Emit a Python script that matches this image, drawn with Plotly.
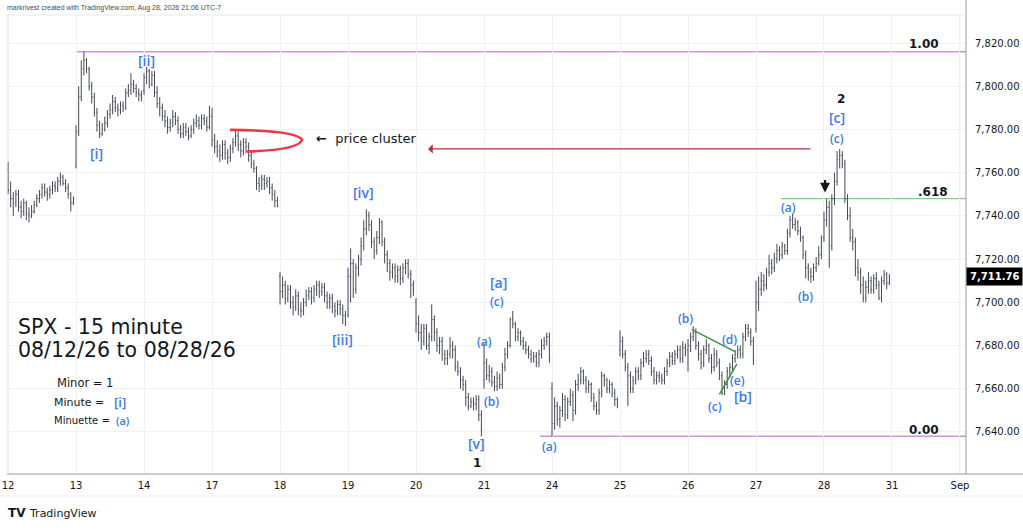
import plotly.graph_objects as go

# ---------------- data ----------------
days = ["12", "13", "14", "17", "18", "19", "20", "21", "24", "25", "26", "27", "28"]
axis_labels = ["12", "13", "14", "17", "18", "19", "20", "21", "24", "25", "26", "27", "28", "31", "Sep"]
bars_per_day = 26
day_open = [7762, 7763, 7798, 7786, 7712, 7694, 7700, 7664, 7660, 7678, 7678, 7688, 7730]

c12 = [7752, 7748, 7746, 7750, 7744, 7742, 7746, 7741, 7740, 7742, 7745, 7748, 7750, 7753, 7751, 7750, 7752, 7754, 7753, 7756, 7758, 7755, 7753, 7750, 7746, 7748]
h12 = [7765, 7756, 7751, 7752, 7752, 7747, 7748, 7747, 7744, 7745, 7747, 7750, 7752, 7755, 7755, 7753, 7754, 7756, 7756, 7758, 7760, 7759, 7757, 7755, 7751, 7749]
l12 = [7750, 7744, 7740, 7744, 7742, 7739, 7740, 7738, 7737, 7739, 7741, 7744, 7746, 7748, 7749, 7747, 7748, 7750, 7751, 7751, 7754, 7754, 7751, 7748, 7742, 7745]

c13 = [7779, 7795, 7808, 7812, 7808, 7800, 7795, 7788, 7782, 7778, 7780, 7783, 7787, 7789, 7793, 7790, 7789, 7791, 7790, 7797, 7798, 7801, 7799, 7797, 7796, 7795]
h13 = [7782, 7800, 7812, 7816, 7813, 7809, 7802, 7797, 7790, 7784, 7783, 7786, 7789, 7792, 7796, 7795, 7792, 7793, 7793, 7799, 7801, 7806, 7803, 7801, 7799, 7798]
l13 = [7762, 7777, 7793, 7805, 7806, 7798, 7792, 7786, 7779, 7776, 7777, 7779, 7781, 7785, 7787, 7788, 7786, 7787, 7788, 7789, 7795, 7796, 7797, 7795, 7793, 7793]

c14 = [7804, 7807, 7801, 7805, 7797, 7792, 7790, 7786, 7784, 7781, 7783, 7786, 7784, 7780, 7778, 7781, 7779, 7777, 7780, 7783, 7784, 7782, 7785, 7784, 7781, 7786]
h14 = [7806, 7809, 7808, 7807, 7807, 7800, 7795, 7792, 7789, 7786, 7785, 7789, 7788, 7786, 7782, 7783, 7783, 7781, 7782, 7785, 7787, 7786, 7787, 7787, 7786, 7791]
l14 = [7796, 7801, 7799, 7800, 7795, 7790, 7786, 7784, 7781, 7778, 7779, 7781, 7782, 7778, 7776, 7776, 7777, 7775, 7776, 7778, 7781, 7780, 7780, 7782, 7779, 7780]

c17 = [7775, 7772, 7770, 7768, 7773, 7769, 7767, 7771, 7774, 7777, 7773, 7770, 7774, 7772, 7768, 7764, 7762, 7755, 7754, 7757, 7755, 7756, 7753, 7750, 7747, 7745]
h17 = [7790, 7778, 7775, 7773, 7775, 7775, 7771, 7773, 7776, 7780, 7779, 7775, 7776, 7776, 7774, 7770, 7766, 7763, 7758, 7759, 7759, 7758, 7758, 7755, 7752, 7749]
l17 = [7772, 7769, 7767, 7765, 7766, 7766, 7764, 7765, 7769, 7772, 7770, 7767, 7768, 7769, 7765, 7762, 7760, 7752, 7751, 7752, 7752, 7753, 7750, 7747, 7744, 7744]

c18 = [7705, 7708, 7702, 7706, 7700, 7698, 7703, 7697, 7696, 7700, 7703, 7705, 7702, 7706, 7708, 7705, 7707, 7703, 7700, 7702, 7698, 7696, 7699, 7697, 7694, 7691]
h18 = [7714, 7712, 7710, 7708, 7708, 7703, 7706, 7705, 7700, 7702, 7706, 7707, 7707, 7708, 7710, 7710, 7709, 7709, 7705, 7704, 7704, 7700, 7701, 7701, 7699, 7696]
l18 = [7699, 7702, 7699, 7700, 7697, 7694, 7696, 7694, 7693, 7694, 7698, 7701, 7699, 7700, 7703, 7702, 7703, 7700, 7697, 7697, 7695, 7693, 7694, 7694, 7690, 7689]

c19 = [7712, 7718, 7706, 7716, 7720, 7726, 7734, 7740, 7736, 7728, 7724, 7730, 7737, 7728, 7722, 7718, 7714, 7716, 7712, 7715, 7711, 7716, 7718, 7713, 7708, 7706]
h19 = [7716, 7725, 7720, 7718, 7722, 7730, 7738, 7743, 7742, 7738, 7730, 7733, 7739, 7738, 7730, 7724, 7720, 7718, 7718, 7717, 7717, 7718, 7720, 7720, 7715, 7710]
l19 = [7693, 7700, 7702, 7704, 7712, 7717, 7724, 7731, 7733, 7725, 7720, 7722, 7727, 7726, 7718, 7714, 7710, 7711, 7709, 7709, 7708, 7709, 7713, 7711, 7702, 7703]

c20 = [7690, 7686, 7682, 7688, 7680, 7684, 7692, 7686, 7680, 7682, 7676, 7674, 7676, 7680, 7678, 7670, 7668, 7664, 7662, 7656, 7652, 7654, 7653, 7655, 7648, 7641]
h20 = [7702, 7694, 7690, 7690, 7690, 7686, 7699, 7694, 7688, 7684, 7684, 7678, 7678, 7684, 7682, 7680, 7673, 7670, 7666, 7664, 7658, 7656, 7656, 7657, 7657, 7650]
l20 = [7686, 7682, 7678, 7680, 7678, 7676, 7682, 7682, 7677, 7676, 7673, 7671, 7671, 7674, 7674, 7668, 7666, 7660, 7659, 7652, 7650, 7651, 7650, 7650, 7645, 7638]

c21 = [7672, 7666, 7668, 7663, 7661, 7665, 7662, 7670, 7676, 7680, 7692, 7690, 7684, 7686, 7682, 7680, 7678, 7676, 7674, 7675, 7672, 7676, 7680, 7682, 7684, 7674]
h21 = [7681, 7674, 7671, 7670, 7666, 7668, 7667, 7672, 7679, 7682, 7693, 7696, 7691, 7688, 7687, 7684, 7682, 7680, 7678, 7677, 7677, 7678, 7683, 7684, 7686, 7686]
l21 = [7660, 7664, 7663, 7661, 7659, 7659, 7660, 7660, 7668, 7674, 7679, 7688, 7682, 7682, 7680, 7678, 7676, 7674, 7672, 7672, 7670, 7670, 7674, 7678, 7680, 7672]

c24 = [7644, 7652, 7646, 7650, 7655, 7648, 7654, 7657, 7650, 7662, 7664, 7668, 7664, 7660, 7662, 7656, 7652, 7650, 7658, 7666, 7664, 7660, 7662, 7658, 7655, 7652]
h24 = [7663, 7656, 7654, 7652, 7658, 7657, 7656, 7660, 7659, 7664, 7667, 7670, 7669, 7666, 7664, 7663, 7658, 7654, 7660, 7668, 7667, 7665, 7664, 7663, 7660, 7656]
l24 = [7638, 7641, 7643, 7642, 7647, 7645, 7646, 7652, 7645, 7648, 7659, 7662, 7662, 7658, 7658, 7654, 7650, 7648, 7648, 7656, 7661, 7658, 7658, 7656, 7652, 7651]

c25 = [7682, 7676, 7670, 7666, 7660, 7664, 7668, 7666, 7672, 7674, 7676, 7673, 7668, 7664, 7666, 7665, 7664, 7668, 7672, 7675, 7673, 7676, 7678, 7674, 7679, 7678]
h25 = [7687, 7684, 7678, 7672, 7668, 7666, 7670, 7670, 7674, 7677, 7678, 7678, 7675, 7670, 7668, 7668, 7667, 7670, 7674, 7677, 7677, 7678, 7680, 7680, 7682, 7681]
l25 = [7675, 7674, 7668, 7652, 7658, 7658, 7662, 7664, 7664, 7670, 7672, 7671, 7666, 7662, 7662, 7663, 7662, 7662, 7666, 7670, 7671, 7671, 7674, 7672, 7672, 7675]

c26 = [7680, 7684, 7686, 7680, 7676, 7672, 7678, 7680, 7674, 7670, 7676, 7672, 7666, 7658, 7662, 7668, 7670, 7674, 7676, 7678, 7676, 7684, 7688, 7686, 7682, 7674]
h26 = [7683, 7686, 7689, 7688, 7682, 7678, 7680, 7683, 7681, 7676, 7679, 7678, 7674, 7668, 7664, 7670, 7672, 7676, 7678, 7680, 7680, 7686, 7690, 7690, 7688, 7684]
l26 = [7668, 7677, 7682, 7678, 7673, 7669, 7670, 7676, 7672, 7667, 7668, 7670, 7664, 7657, 7657, 7660, 7665, 7668, 7672, 7674, 7674, 7674, 7682, 7684, 7680, 7671]

c27 = [7700, 7706, 7710, 7708, 7714, 7718, 7716, 7720, 7724, 7722, 7726, 7724, 7732, 7738, 7736, 7737, 7733, 7730, 7722, 7716, 7714, 7712, 7716, 7718, 7722, 7728]
h27 = [7710, 7712, 7714, 7713, 7716, 7722, 7720, 7723, 7727, 7726, 7728, 7727, 7734, 7740, 7741, 7739, 7738, 7735, 7731, 7724, 7718, 7716, 7718, 7721, 7726, 7731]
l27 = [7686, 7696, 7703, 7705, 7706, 7712, 7713, 7714, 7718, 7719, 7720, 7722, 7722, 7730, 7734, 7733, 7731, 7728, 7720, 7711, 7710, 7709, 7710, 7714, 7717, 7720]

c28 = [7738, 7744, 7726, 7748, 7756, 7766, 7768, 7764, 7748, 7740, 7730, 7728, 7716, 7714, 7708, 7702, 7707, 7710, 7706, 7711, 7708, 7702, 7710, 7713, 7709, 7711.76]
h28 = [7742, 7748, 7747, 7750, 7760, 7770, 7771, 7770, 7766, 7750, 7744, 7734, 7730, 7720, 7716, 7712, 7710, 7714, 7712, 7713, 7714, 7710, 7712, 7715, 7714, 7713]
l28 = [7728, 7735, 7716, 7724, 7745, 7754, 7762, 7762, 7746, 7738, 7728, 7724, 7712, 7710, 7704, 7700, 7700, 7704, 7704, 7704, 7706, 7701, 7700, 7708, 7706, 7708]

# Fibonacci levels and reference levels
fib_levels = [1.00, 0.618, 0.00]
fib_labels = ["1.00", ".618", "0.00"]
swing_high = 7816
swing_low = 7638
cluster_price = 7771
last_price = 7711.76

# Elliott wave labels: (text, bar index, price, kind)
wave_labels = [
    ("[i]", 34, 7769, "blue_big"), ("[ii]", 53, 7812, "blue_big"),
    ("[iii]", 127.7, 7683, "blue_big"), ("[iv]", 136, 7751, "blue_big"),
    ("[v]", 179.3, 7634.5, "blue_big"), ("1", 179.3, 7625.5, "black"),
    ("(a)", 182, 7682, "blue"), ("(b)", 184.7, 7654, "blue"),
    ("[a]", 187.4, 7709, "blue_big"), ("(c)", 187, 7700.6, "blue"),
    ("(a)", 207, 7633.5, "blue"), ("(b)", 259, 7692.3, "blue"),
    ("(c)", 270.4, 7651.6, "blue"), ("(d)", 275.7, 7682.6, "blue"),
    ("(e)", 278.8, 7664, "blue"), ("[b]", 281, 7656.2, "blue_big"),
    ("(a)", 298.3, 7744, "blue"), ("(b)", 304.8, 7702.5, "blue"),
    ("(c)", 317, 7775.6, "blue"), ("[c]", 317, 7785.3, "blue_big"),
    ("2", 318.5, 7794, "black"),
]

# ---------------- build series ----------------
closes_by_day = [c12, c13, c14, c17, c18, c19, c20, c21, c24, c25, c26, c27, c28]
highs_by_day = [h12, h13, h14, h17, h18, h19, h20, h21, h24, h25, h26, h27, h28]
lows_by_day = [l12, l13, l14, l17, l18, l19, l20, l21, l24, l25, l26, l27, l28]

xs, o, h, l, c = [], [], [], [], []
for d, (cc, hh, ll) in enumerate(zip(closes_by_day, highs_by_day, lows_by_day)):
    opens = [day_open[d]] + cc[:-1]
    for k in range(len(cc)):
        xs.append(d * bars_per_day + k)
        o.append(opens[k]); h.append(hh[k]); l.append(ll[k]); c.append(cc[k])

tick_vals = [i * bars_per_day for i in range(len(axis_labels))]

BAR = "#454953"
BLUE = "#3a78ef"
FONT = "DejaVu Sans"
LBL = "Open Sans"

fig = go.Figure()
fig.add_trace(go.Ohlc(
    x=xs, open=o, high=h, low=l, close=c,
    increasing=dict(line=dict(color=BAR, width=1)),
    decreasing=dict(line=dict(color=BAR, width=1)),
    tickwidth=0.32, showlegend=False, hoverinfo="skip",
))

W, H = 1023, 530
L, R, T, B = 7, 57, 15, 56
x_range = [-0.4, 366.3]
y_range = [7620.56, 7832.96]

def px(xp):
    return (xp - L) / (W - L - R)

def py(yp):
    return (H - B - yp) / (H - T - B)

shapes = []
# fib lines
fib_start = {1.00: 26, 0.618: 295.6, 0.00: 203.4}
fib_color = {1.00: "#ce93d8", 0.618: "#8bc98e", 0.00: "#ce93d8"}
fib_width = {1.00: 1.5, 0.618: 1.2, 0.00: 1.5}
fib_prices = []
for f in fib_levels:
    p = swing_low + f * (swing_high - swing_low)
    fib_prices.append(p)
    shapes.append(dict(type="line", xref="x", yref="y", x0=fib_start[f], x1=x_range[1],
                       y0=p, y1=p, line=dict(color=fib_color[f], width=fib_width[f]), layer="below"))

# green triangle lines
shapes.append(dict(type="line", xref="x", yref="y", x0=261.4, y0=7687.5, x1=278, y1=7677.2,
                   line=dict(color="#3f9142", width=1.5)))
shapes.append(dict(type="line", xref="x", yref="y", x0=272, y0=7657.4, x1=278.7, y1=7671.5,
                   line=dict(color="#3f9142", width=1.5)))

# price cluster curve
shapes.append(dict(type="path", xref="x", yref="y",
                   path="M 84.9,7779.8 Q 110.5,7779.5 112.4,7775.2 Q 111,7770.5 91.2,7769.8",
                   line=dict(color="#f23645", width=2.6)))

# frame lines
shapes += [
    dict(type="line", xref="paper", yref="paper", x0=0, x1=px(W), y0=0, y1=0,
         line=dict(color="#9598a1", width=1)),
    dict(type="line", xref="paper", yref="paper", x0=1, x1=1, y0=0, y1=py(0),
         line=dict(color="#9598a1", width=1)),
    dict(type="line", xref="paper", yref="paper", x0=0, x1=1, y0=1, y1=1,
         line=dict(color="#e6e8ee", width=1)),
    dict(type="line", xref="paper", yref="paper", x0=0, x1=0, y0=0, y1=1,
         line=dict(color="#e6e8ee", width=1)),
    dict(type="line", xref="paper", yref="paper", x0=px(0), x1=px(W), y0=py(496), y1=py(496),
         line=dict(color="#eeeff3", width=1)),
]

ann = []
for text, xi, yp, kind in wave_labels:
    if kind == "black":
        ann.append(dict(x=xi, y=yp, xref="x", yref="y", text="<b>%s</b>" % text, showarrow=False,
                        font=dict(family=FONT, size=12, color="#131722")))
    else:
        ann.append(dict(x=xi, y=yp, xref="x", yref="y", text=text, showarrow=False,
                        font=dict(family=LBL, weight=600, size=14 if kind == "blue_big" else 12,
                                  color=BLUE)))

fib_text_x = [350.4, 353.7, 350.3]
fib_text_dy = [3.5, 3.0, 3.0]
for t, xi, p, dy in zip(fib_labels, fib_text_x, fib_prices, fib_text_dy):
    ann.append(dict(x=xi, y=p + dy, xref="x", yref="y", text="<b>%s</b>" % t, showarrow=False,
                    font=dict(family=FONT, size=12, color="#131722")))

# long red arrow pointing left
ann.append(dict(x=160.6, y=cluster_price, xref="x", yref="y", ax=307.4, ay=cluster_price,
                axref="x", ayref="y", text="", showarrow=True, arrowhead=1, arrowsize=1.3,
                arrowwidth=1.2, arrowcolor="#b5313b"))
# black down arrow
ann.append(dict(x=312.4, y=7750.8, xref="x", yref="y", ax=0, ay=-14, text="", showarrow=True,
                arrowhead=2, arrowsize=0.9, arrowwidth=2.2, arrowcolor="#131722"))
# price cluster text
ann.append(dict(x=117, y=7775.6, xref="x", yref="y", xanchor="left", text="<b>←</b>  price cluster",
                showarrow=False, font=dict(family=FONT, size=13, color="#131722")))

# left text block
ann += [
    dict(x=px(16), y=py(327), xref="paper", yref="paper", xanchor="left", yanchor="middle",
         text="SPX - 15 minute", showarrow=False, font=dict(family=FONT, size=20.5, color="#131722")),
    dict(x=px(16), y=py(350), xref="paper", yref="paper", xanchor="left", yanchor="middle",
         text="08/12/26 to 08/28/26", showarrow=False, font=dict(family=FONT, size=20.5, color="#131722")),
    dict(x=px(55), y=py(383), xref="paper", yref="paper", xanchor="left", yanchor="middle",
         text="Minor = 1", showarrow=False, font=dict(family=FONT, size=11.5, color="#131722")),
    dict(x=px(52), y=py(402), xref="paper", yref="paper", xanchor="left", yanchor="middle",
         text="Minute =", showarrow=False, font=dict(family=FONT, size=11, color="#131722")),
    dict(x=px(120), y=py(402), xref="paper", yref="paper", xanchor="center", yanchor="middle",
         text="[i]", showarrow=False, font=dict(family=LBL, weight=600, size=13, color=BLUE)),
    dict(x=px(52), y=py(420), xref="paper", yref="paper", xanchor="left", yanchor="middle",
         text="Minuette =", showarrow=False, font=dict(family=FONT, size=10, color="#131722")),
    dict(x=px(122.5), y=py(420), xref="paper", yref="paper", xanchor="center", yanchor="middle",
         text="(a)", showarrow=False, font=dict(family=LBL, weight=600, size=11, color=BLUE)),
    # header
    dict(x=px(5), y=py(8), xref="paper", yref="paper", xanchor="left", yanchor="middle",
         text="markrivest created with TradingView.com, Aug 28, 2026 21:06 UTC-7", showarrow=False,
         font=dict(family="Liberation Sans", size=7, color="#4a4a4a")),
    # logo
    dict(x=px(6), y=py(513), xref="paper", yref="paper", xanchor="left", yanchor="middle",
         text="<b>TV</b>", showarrow=False, font=dict(family=FONT, size=12, color="#131722")),
    dict(x=px(27), y=py(513), xref="paper", yref="paper", xanchor="left", yanchor="middle",
         text="TradingView", showarrow=False, font=dict(family=FONT, size=11, color="#131722")),
    # last price tag
    dict(x=1, y=last_price, xref="paper", yref="y", xanchor="left", yanchor="middle",
         text="<b>7,711.76</b>", showarrow=False, bgcolor="#000000", borderpad=3,
         font=dict(family=FONT, size=10, color="#ffffff")),
]

fig.update_layout(
    width=W, height=H,
    margin=dict(l=L, r=R, t=T, b=B, autoexpand=False),
    paper_bgcolor="white", plot_bgcolor="white",
    showlegend=False,
    shapes=shapes, annotations=ann,
    xaxis=dict(range=x_range, tickmode="array", tickvals=tick_vals, ticktext=axis_labels,
               showgrid=True, gridcolor="#f0f1f4", zeroline=False, showline=False,
               rangeslider=dict(visible=False), ticks="", automargin=False,
               ticklabelstandoff=4,
               tickfont=dict(family=FONT, size=10, color="#131722"), fixedrange=True),
    yaxis=dict(range=y_range, side="right", dtick=20, tick0=7640, tickformat=",.2f",
               showgrid=True, gridcolor="#f0f1f4", zeroline=False, showline=False, ticks="",
               ticklabelstandoff=8, automargin=False,
               tickfont=dict(family=FONT, size=10, color="#131722"), fixedrange=True),
)

fig.write_html("out.html", config={"displayModeBar": False},
               post_script="document.body.style.margin='0';document.body.style.overflow='hidden';")
